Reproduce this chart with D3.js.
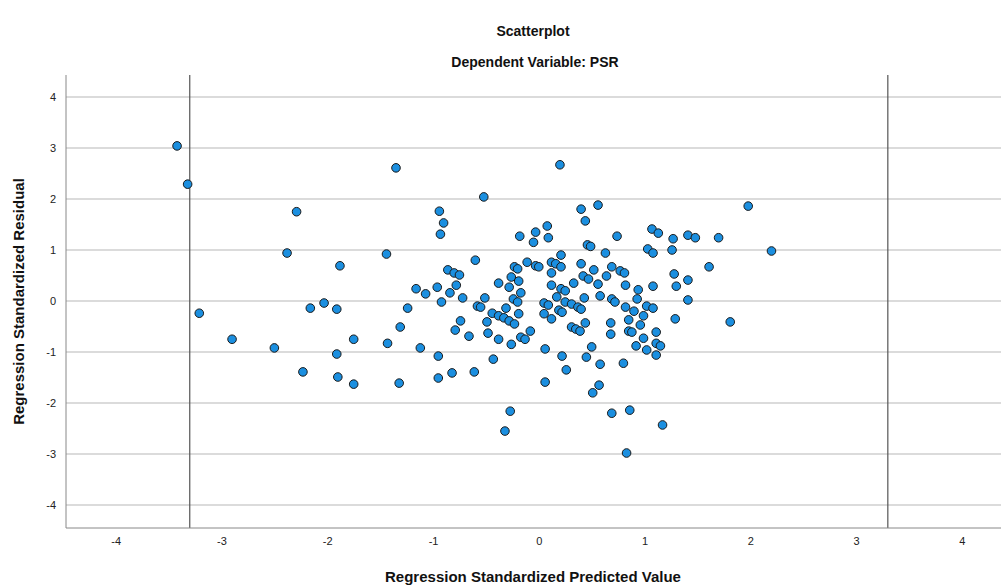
<!DOCTYPE html>
<html>
<head>
<meta charset="utf-8">
<script src="https://cdn.jsdelivr.net/npm/d3@7"></script>
<style>
  body { margin: 0; background: #fff; }
  text { font-family: Arial, "Liberation Sans", sans-serif; }
</style>
</head>
<body>
<svg id="chart" width="1001" height="587"></svg>
<script>
// Regression standardized predicted value (x) and residual (y)
const predicted = [
  -3.42, -3.32, -1.35, -2.29, -2.38, -1.44, -1.88, -1.16, -3.21, -2.16,
  -2.03, -1.91, -1.24, -1.31, -2.90, -2.50, -1.75, -1.43, -1.91, -1.12,
  -2.23, -1.90, -1.75, -1.32, 0.20, -0.52, -0.94, -0.90, -0.93, 0.40,
  0.56, 0.44, -0.18, -0.03, -0.05, 0.08, 0.09, 0.46, 0.49, -0.60,
  -0.86, -0.80, -0.75, -0.78, -0.84, -1.07, -0.96, -0.72, -0.51, -0.38,
  -0.28, -0.26, -0.23, -0.20, -0.19, -0.17, -0.11, -0.03, 0.00, 0.12,
  0.16, 0.21, 0.21, 0.12, 0.12, 0.21, 0.25, 0.33, 0.40, 0.42,
  0.47, 0.52, 0.56, 0.43, 0.17, 0.58, -0.24, -0.92, -0.58, -0.55,
  -0.44, -0.38, -0.33, -0.28, -0.23, -0.31, -0.20, -0.19, -0.49, -0.74,
  -0.79, -0.66, -0.48, -0.38, -0.26, -0.17, -0.13, -0.08, 0.05, 0.09,
  0.25, 0.31, 0.37, 0.40, 0.19, 0.22, 0.05, 0.12, 0.31, 0.35,
  0.39, 0.44, -0.95, -0.95, -0.82, -0.61, -0.43, 0.06, 0.22, 0.26,
  0.06, 0.50, 0.45, 0.58, 0.57, 0.51, -0.27, -0.32, 0.69, 0.86,
  1.17, 0.83, 1.98, 1.07, 1.13, 0.74, 1.27, 1.41, 1.48, 1.70,
  1.03, 1.08, 1.26, 2.20, 0.63, 1.61, 1.28, 1.41, 1.30, 1.08,
  0.82, 0.94, 0.69, 0.77, 0.81, 0.64, 0.69, 0.93, 1.41, 0.72,
  0.82, 0.90, 1.02, 1.08, 0.99, 1.29, 1.81, 0.68, 0.68, 0.85,
  0.96, 0.85, 0.88, 1.11, 0.99, 1.11, 1.15, 0.92, 1.02, 1.11,
  0.80
];
const residual = [
  3.04, 2.29, 2.61, 1.75, 0.94, 0.92, 0.69, 0.24, -0.24, -0.14,
  -0.04, -0.16, -0.14, -0.51, -0.75, -0.92, -0.75, -0.83, -1.04, -0.92,
  -1.39, -1.49, -1.63, -1.61, 2.67, 2.04, 1.76, 1.53, 1.31, 1.80,
  1.88, 1.57, 1.27, 1.35, 1.15, 1.47, 1.24, 1.10, 1.07, 0.80,
  0.61, 0.55, 0.51, 0.31, 0.16, 0.14, 0.27, 0.06, 0.06, 0.35,
  0.27, 0.47, 0.67, 0.63, 0.39, 0.16, 0.76, 0.69, 0.67, 0.76,
  0.73, 0.90, 0.67, 0.55, 0.31, 0.24, 0.20, 0.35, 0.73, 0.49,
  0.43, 0.61, 0.33, 0.06, 0.08, 0.10, 0.04, -0.02, -0.10, -0.12,
  -0.24, -0.29, -0.33, -0.39, -0.45, -0.14, -0.02, -0.25, -0.41, -0.39,
  -0.57, -0.69, -0.63, -0.75, -0.85, -0.71, -0.75, -0.59, -0.04, -0.08,
  -0.02, -0.06, -0.12, -0.16, -0.18, -0.22, -0.25, -0.35, -0.51, -0.55,
  -0.59, -0.43, -1.08, -1.51, -1.41, -1.39, -1.14, -0.94, -1.08, -1.35,
  -1.59, -0.90, -1.10, -1.24, -1.65, -1.80, -2.16, -2.55, -2.20, -2.14,
  -2.43, -2.98, 1.86, 1.41, 1.33, 1.27, 1.22, 1.29, 1.24, 1.24,
  1.02, 0.94, 1.00, 0.98, 0.94, 0.67, 0.53, 0.41, 0.29, 0.29,
  0.31, 0.22, 0.67, 0.59, 0.55, 0.49, 0.04, 0.04, 0.02, -0.02,
  -0.12, -0.20, -0.10, -0.14, -0.29, -0.35, -0.41, -0.43, -0.65, -0.37,
  -0.47, -0.59, -0.61, -0.61, -0.73, -0.83, -0.88, -0.88, -0.96, -1.06,
  -1.22
];
const tickValues = [-4, -3, -2, -1, 0, 1, 2, 3, 4];
const refLines = [-3.3, 3.3];

const titleText = "Scatterplot";
const subtitleText = "Dependent Variable: PSR";
const xTitle = "Regression Standardized Predicted Value";
const yTitle = "Regression Standardized Residual";

const svg = d3.select("#chart");
const plot = { left: 66, right: 1001, top: 75, bottom: 528 };

const x = d3.scaleLinear().domain([-4.47, 4.37]).range([plot.left, plot.right]);
const y = d3.scaleLinear().domain([-4.45, 4.43]).range([plot.bottom, plot.top]);

// horizontal gridlines
svg.append("g")
  .selectAll("line")
  .data(tickValues)
  .join("line")
  .attr("x1", plot.left)
  .attr("x2", plot.right)
  .attr("y1", d => y(d))
  .attr("y2", d => y(d))
  .attr("stroke", "#cfcfcf")
  .attr("stroke-width", 1.5);

// reference lines at +-3.3
svg.append("g")
  .selectAll("line")
  .data(refLines)
  .join("line")
  .attr("x1", d => x(d))
  .attr("x2", d => x(d))
  .attr("y1", plot.top)
  .attr("y2", plot.bottom)
  .attr("stroke", "#555")
  .attr("stroke-width", 1.2);

// axes (plain hyphen minus like SPSS)
const fmt = d => String(d);
const xAxis = d3.axisBottom(x).tickValues(tickValues).tickSize(0).tickPadding(9).tickFormat(fmt);
const yAxis = d3.axisLeft(y).tickValues(tickValues).tickSize(0).tickPadding(10).tickFormat(fmt);

const gx = svg.append("g")
  .attr("transform", `translate(0,${plot.bottom})`)
  .call(xAxis);
const gy = svg.append("g")
  .attr("transform", `translate(${plot.left},0)`)
  .call(yAxis);

[gx, gy].forEach(g => {
  g.select(".domain").attr("stroke", "#888").attr("stroke-width", 1);
  g.selectAll("text")
    .attr("font-size", 11)
    .attr("fill", "#222")
    .attr("font-family", "Arial, 'Liberation Sans', sans-serif");
});
gx.select(".domain").attr("d", `M${plot.left},0H${plot.right}`);
gy.select(".domain").attr("d", `M0,${plot.top}V${plot.bottom}`);

// points
const points = predicted.map((p, i) => ({ p, r: residual[i] }));
svg.append("g")
  .selectAll("circle")
  .data(points)
  .join("circle")
  .attr("cx", d => x(d.p))
  .attr("cy", d => y(d.r))
  .attr("r", 4.3)
  .attr("fill", "#1b8fe0")
  .attr("stroke", "#1a1a1a")
  .attr("stroke-width", 1);

// titles
svg.append("text")
  .attr("x", 533).attr("y", 36)
  .attr("text-anchor", "middle")
  .attr("font-size", 14).attr("font-weight", "bold").attr("fill", "#111")
  .text(titleText);
svg.append("text")
  .attr("x", 535).attr("y", 67)
  .attr("text-anchor", "middle")
  .attr("font-size", 14).attr("font-weight", "bold").attr("fill", "#111")
  .text(subtitleText);
svg.append("text")
  .attr("x", 533).attr("y", 582)
  .attr("text-anchor", "middle")
  .attr("font-size", 15).attr("font-weight", "bold").attr("fill", "#111")
  .text(xTitle);
svg.append("text")
  .attr("transform", `translate(24,${(plot.top + plot.bottom) / 2}) rotate(-90)`)
  .attr("text-anchor", "middle")
  .attr("font-size", 15).attr("font-weight", "bold").attr("fill", "#111")
  .text(yTitle);
</script>
</body>
</html>
